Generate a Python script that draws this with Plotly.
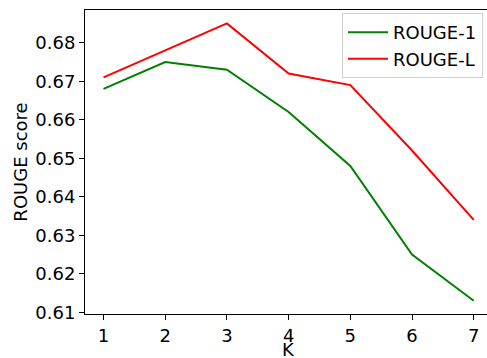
import plotly.graph_objects as go

K = [1, 2, 3, 4, 5, 6, 7]
rouge_1 = [0.668, 0.675, 0.673, 0.662, 0.648, 0.625, 0.613]
rouge_l = [0.671, 0.678, 0.685, 0.672, 0.669, 0.652, 0.634]
y_ticks = [0.61, 0.62, 0.63, 0.64, 0.65, 0.66, 0.67, 0.68]

fig = go.Figure()
fig.add_trace(go.Scatter(x=K, y=rouge_1, mode="lines", name="ROUGE-1",
                         line=dict(color="#008000", width=2)))
fig.add_trace(go.Scatter(x=K, y=rouge_l, mode="lines", name="ROUGE-L",
                         line=dict(color="#ff0000", width=2)))

font = dict(family="DejaVu Sans", size=18, color="black")
fig.update_layout(
    width=487, height=358,
    margin=dict(l=85, r=0, t=10, b=44),
    plot_bgcolor="white", paper_bgcolor="white",
    font=font,
    showlegend=True,
    legend=dict(x=0.99, y=0.99, xanchor="right", yanchor="top",
                bordercolor="#d0d0d0", borderwidth=1, bgcolor="rgba(255,255,255,0.8)",
                font=dict(family="DejaVu Sans", size=18, color="black"),
                tracegroupgap=0, itemwidth=40),
    xaxis=dict(range=[0.7, 7.215], tickvals=K, ticktext=[str(k) for k in K],
               showgrid=False, zeroline=False, showline=True, linecolor="black",
               linewidth=1, mirror=True, ticks="outside", ticklen=5, tickcolor="black",
               automargin=False, tickfont=font),
    yaxis=dict(range=[0.60956, 0.68849], tickvals=y_ticks,
               ticktext=[f"{v:.2f}" for v in y_ticks],
               showgrid=False, zeroline=False, showline=True, linecolor="black",
               linewidth=1, ticks="outside", ticklen=5, tickcolor="black",
               automargin=False,
               title=dict(text="ROUGE score", standoff=3, font=font), tickfont=font),
    annotations=[dict(text="K", xref="paper", yref="paper", x=0.505, y=-0.118,
                      xanchor="center", yanchor="middle", showarrow=False, font=font)],
)
fig.write_html("out.html", config={"displayModeBar": False},
               post_script="document.body.style.margin='0';document.body.style.overflow='hidden';")
